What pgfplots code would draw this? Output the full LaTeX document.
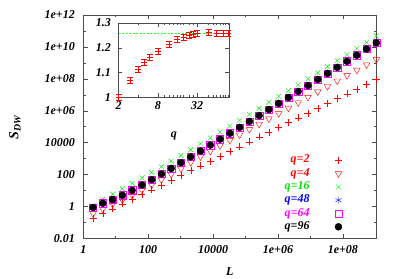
\documentclass[border=0pt]{standalone}
\usepackage{fontspec}
\setmainfont{Liberation Serif}
\usepackage{pgfplots}
\pgfplotsset{compat=1.18}
\definecolor{gpred}{rgb}{1,0,0}
\definecolor{gpgreen}{rgb}{0,0.9,0}
\definecolor{gpblue}{rgb}{0,0,1}
\definecolor{gpmag}{rgb}{1,0,1}
\newcommand{\bi}{\fontsize{12bp}{14bp}\selectfont\bfseries\itshape}
\begin{document}
\begin{tikzpicture}[x=1bp,y=1bp]
\path[use as bounding box] (0,0) rectangle (399,279);
\begin{axis}[
  at={(83.3bp,40.5bp)}, anchor=south west, scale only axis,
  width=293bp, height=223.5bp,
  xmode=log, ymode=log, xmin=1, xmax=1.07e9, ymin=0.01, ymax=1e12,
  clip=false,
  xtick={1,100,1e4,1e6,1e8}, xticklabels={1,100,10000,1e+06,1e+08},
  minor xtick={10,1000,1e5,1e7},
  ytick={1e-2,1,1e2,1e4,1e6,1e8,1e10,1e12},
  yticklabels={0.01,1,100,10000,1e+06,1e+08,1e+10,1e+12},
  minor ytick={0.1,10,1000,1e5,1e7,1e9,1e11},
  tick label style={font=\bi},
  xticklabel style={yshift=-4bp}, yticklabel style={xshift=-5bp},
  axis line style={black!70, line width=0.6bp},
  major tick length=4.5bp, minor tick length=2.5bp,
  tick style={black!70, line width=0.5bp},
  xlabel={L}, ylabel={\textit{S}\textsubscript{\textit{DW}}},
  every axis x label/.style={at={(axis description cs:0.5,-0.1486)}, anchor=center, font=\bi},
  every axis y label/.style={at={(axis description cs:-0.2331,0.5)}, anchor=center, rotate=90, font=\fontsize{14bp}{16bp}\selectfont\bfseries},
  legend plot pos=right,
  legend image code/.code={\path (0bp,0bp); \draw[#1] plot coordinates {(28.7bp,0bp)};},
  legend style={draw=none, fill=none, font=\bi, at={(axis description cs:0.894,0.0128)}, anchor=south east,
    row sep=0pt, nodes={inner sep=0pt, text height=9.3bp, text depth=4bp}},
  legend cell align=right,
]
\addplot[gpred, only marks, mark=+, mark size=3.5bp, line width=0.4bp] coordinates {
(2,0.178)(4,0.380)(8,0.724)(16,1.48)(32,2.95)(64,5.75)(128,11.2)(256,22.4)(512,44.7)(1024,89.1)
(2048,178)(4096,355)(8192,708)(16384,1413)(32768,2818)(65536,5623)(131072,11220)(262144,22909)(524288,45709)(1048576,91201)
(2097152,181970)(4194304,363078)(8388608,724436)(16777216,1.445e6)(33554432,2.884e6)(67108864,5.754e6)(134217728,1.148e7)(268435456,2.291e7)(536870912,4.571e7)(1073741824,9.120e7)};
\addlegendentry{\textcolor{gpred}{q=2}}
\addplot[gpred, only marks, mark=triangle, mark size=3.8bp, mark options={rotate=180}, line width=0.4bp] coordinates {
(2,0.363)(4,0.676)(8,1.38)(16,2.57)(32,5.13)(64,10.7)(128,22.4)(256,47.9)(512,105)(1024,234)
(2048,575)(4096,1318)(8192,2951)(16384,6457)(32768,14125)(65536,30903)(131072,67608)(262144,144544)(524288,316228)(1048576,676083)
(2097152,1.479e6)(4194304,3.236e6)(8388608,7.079e6)(16777216,1.549e7)(33554432,3.388e7)(67108864,7.413e7)(134217728,1.622e8)(268435456,3.548e8)(536870912,7.586e8)(1073741824,1.622e9)};
\addlegendentry{\textcolor{gpred}{q=4}}
\addplot[gpgreen, only marks, mark=x, mark size=3.5bp, line width=0.4bp] coordinates {
(2,1.10)(4,2.82)(8,6.03)(16,12.9)(32,28.2)(64,63.1)(128,138)(256,309)(512,692)(1024,1585)
(2048,3631)(4096,8511)(8192,19953)(16384,46774)(32768,109648)(65536,257040)(131072,602560)(262144,1.413e6)(524288,3.388e6)(1048576,8.128e6)
(2097152,1.778e7)(4194304,4.266e7)(8388608,1e8)(16777216,2.399e8)(33554432,5.754e8)(67108864,1.380e9)(134217728,3.311e9)(268435456,7.943e9)(536870912,1.950e10)(1073741824,4.786e10)};
\addlegendentry{\textcolor{gpgreen}{q=16}}
\addplot[gpblue, only marks, mark=asterisk, mark size=3.5bp, line width=0.4bp] coordinates {
(2,0.871)(4,1.62)(8,2.75)(16,5.13)(32,10.5)(64,22.4)(128,49.0)(256,110)(512,245)(1024,562)
(2048,1288)(4096,3020)(8192,7079)(16384,16596)(32768,38905)(65536,91201)(131072,213796)(262144,501187)(524288,1.202e6)(1048576,2.884e6)
(2097152,6.761e6)(4194304,1.622e7)(8388608,3.802e7)(16777216,9.120e7)(33554432,2.188e8)(67108864,5.248e8)(134217728,1.259e9)(268435456,3.020e9)(536870912,7.413e9)(1073741824,1.820e10)};
\addlegendentry{\textcolor{gpblue}{q=48}}
\addplot[gpmag, only marks, mark=square, mark size=3.6bp, line width=0.4bp] coordinates {
(2,0.871)(4,1.62)(8,2.75)(16,5.13)(32,10.5)(64,22.4)(128,49.0)(256,110)(512,245)(1024,562)
(2048,1288)(4096,3020)(8192,7079)(16384,16596)(32768,38905)(65536,91201)(131072,213796)(262144,501187)(524288,1.202e6)(1048576,2.884e6)
(2097152,6.761e6)(4194304,1.622e7)(8388608,3.802e7)(16777216,9.120e7)(33554432,2.188e8)(67108864,5.248e8)(134217728,1.259e9)(268435456,3.020e9)(536870912,7.413e9)(1073741824,1.820e10)};
\addlegendentry{\textcolor{gpmag}{q=64}}
\addplot[black, only marks, mark=*, mark size=3.5bp] coordinates {
(2,0.871)(4,1.62)(8,2.75)(16,5.13)(32,10.5)(64,22.4)(128,49.0)(256,110)(512,245)(1024,562)
(2048,1288)(4096,3020)(8192,7079)(16384,16596)(32768,38905)(65536,91201)(131072,213796)(262144,501187)(524288,1.202e6)(1048576,2.884e6)
(2097152,6.761e6)(4194304,1.622e7)(8388608,3.802e7)(16777216,9.120e7)(33554432,2.188e8)(67108864,5.248e8)(134217728,1.259e9)(268435456,3.020e9)(536870912,7.413e9)(1073741824,1.820e10)};
\addlegendentry{q=96}
\end{axis}
\begin{axis}[
  at={(118.5bp,181.5bp)}, anchor=south west, scale only axis,
  width=110.8bp, height=74.5bp,
  xmode=log, xmin=2, xmax=100, ymin=1, ymax=1.3,
  clip=false,
  axis background/.style={fill=white},
  xtick={2,8,32}, xticklabels={2,8,32},
  minor xtick={4,10,12,14,16,18,20,24,28,48,56,64,72,80,88,96},
  ytick={1,1.1,1.2,1.3}, yticklabels={1,1.1,1.2,1.3},
  tick label style={font=\bi},
  xticklabel style={yshift=-1bp}, yticklabel style={xshift=-4bp},
  axis line style={black!70, line width=0.6bp},
  major tick length=4bp, minor tick length=2.5bp,
  tick style={black!70, line width=0.5bp},
  xlabel={q},
  every axis x label/.style={at={(axis description cs:0.5,-0.52)}, anchor=center, font=\bi},
]
\addplot[draw={rgb,1:red,0.2;green,1;blue,0.2}, dash pattern=on 2bp off 1.5bp, line width=0.8bp, no marks] coordinates {(2,1.258)(100,1.258)};
\addplot[gpred, only marks, mark=+, mark size=3bp, line width=0.45bp,
  error bars/.cd, y dir=both, y explicit,
  error bar style={gpred, line width=0.45bp},
  error mark options={rotate=90, gpred, mark size=3bp, line width=0.45bp}] coordinates {
(2,1.0)+-(0,0.012) (3,1.071)+-(0,0.012) (4,1.112)+-(0,0.012) (5,1.142)+-(0,0.012)
(6,1.162)+-(0,0.012) (8,1.187)+-(0,0.012) (12,1.214)+-(0,0.012) (16,1.235)+-(0,0.012)
(20,1.244)+-(0,0.012) (24,1.251)+-(0,0.012) (28,1.255)+-(0,0.012) (32,1.259)+-(0,0.012)
(48,1.262)+-(0,0.012) (64,1.260)+-(0,0.012) (80,1.260)+-(0,0.012) (96,1.260)+-(0,0.012)};
\end{axis}
\end{tikzpicture}
\end{document}
